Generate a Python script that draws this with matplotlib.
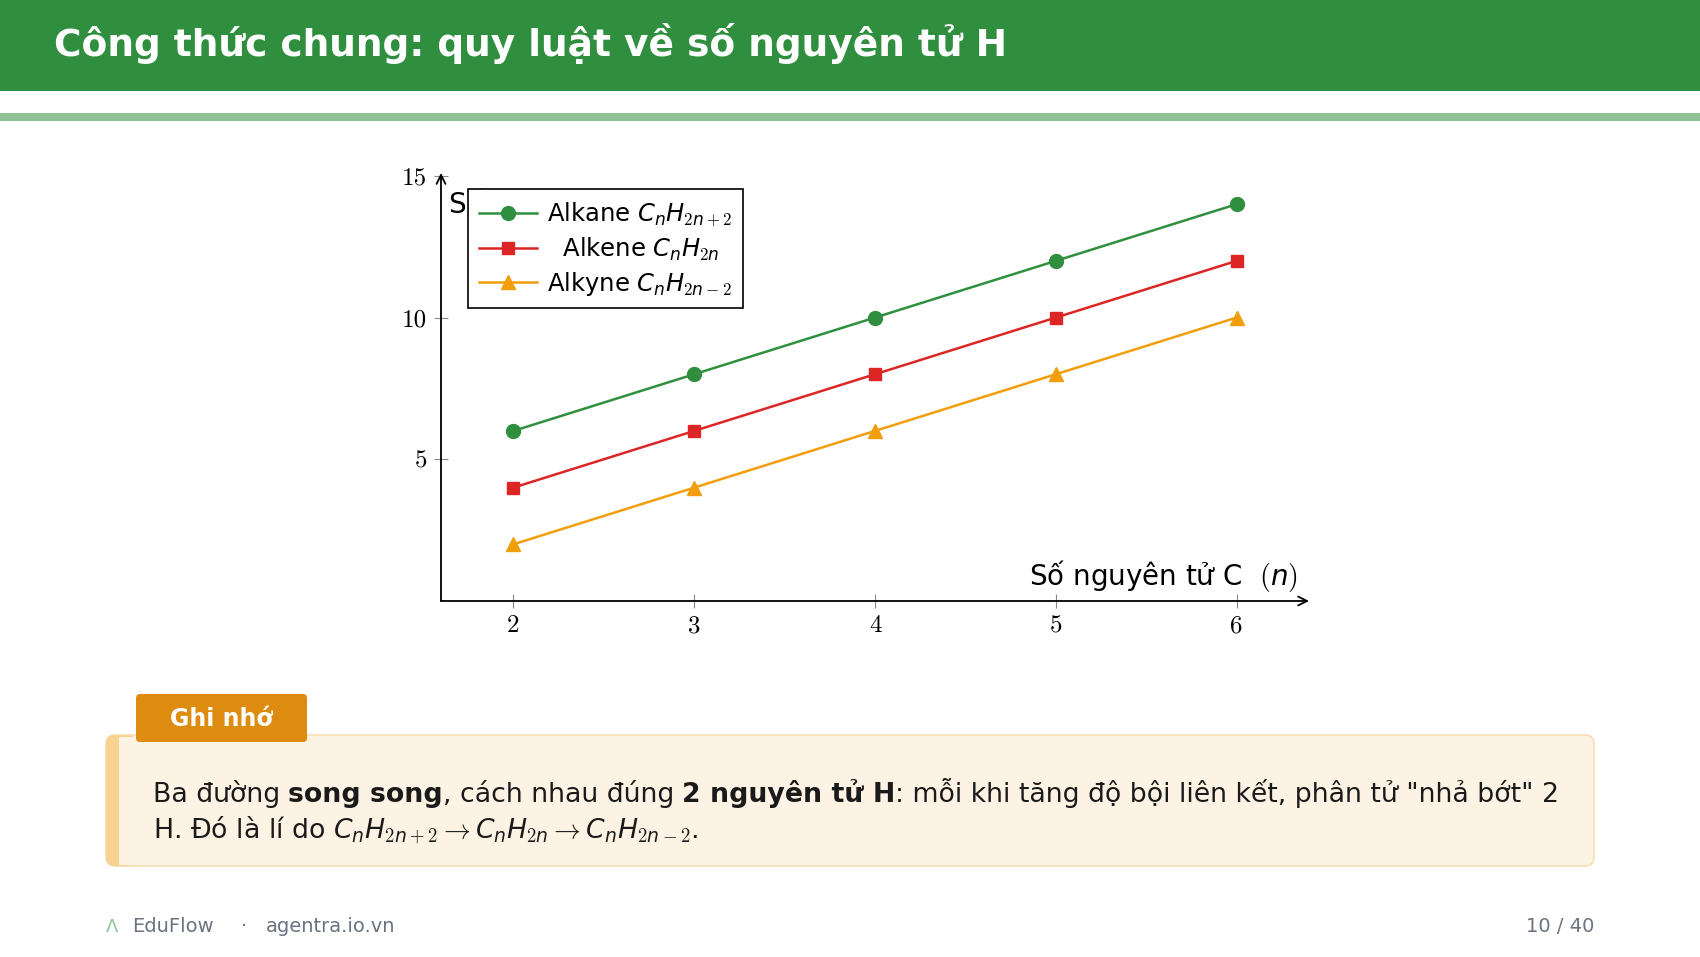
import matplotlib
matplotlib.use("Agg")
import matplotlib.pyplot as plt
from matplotlib.patches import Rectangle, FancyBboxPatch

plt.rcParams['font.family'] = ['DejaVu Sans']
plt.rcParams['mathtext.fontset'] = 'custom'
plt.rcParams['mathtext.it'] = 'DejaVu Sans:italic'
plt.rcParams['mathtext.rm'] = 'cmr10'
plt.rcParams['mathtext.bf'] = 'DejaVu Sans:bold'
plt.rcParams['axes.unicode_minus'] = False

# số nguyên tử C và H
n = [2, 3, 4, 5, 6]
alkane = [6, 8, 10, 12, 14]
alkene = [4, 6, 8, 10, 12]
alkyne = [2, 4, 6, 8, 10]
labels = ["Alkane $C_nH_{2n+2}$", "  Alkene $C_nH_{2n}$", "Alkyne $C_nH_{2n-2}$"]
xticks = [2, 3, 4, 5, 6]
yticks = [5, 10, 15]

GREEN = '#2f8f3f'
RED = '#dc2626'
ORANGE = '#f29e0c'
TXT = '#1a1a1a'

W, H = 1700, 957
fig = plt.figure(figsize=(W / 100, H / 100), dpi=100)

# nền trang (toạ độ pixel)
bg = fig.add_axes([0, 0, 1, 1])
bg.set_xlim(0, W)
bg.set_ylim(H, 0)
bg.axis('off')

bg.add_patch(Rectangle((0, 0), W, 91, color=GREEN, lw=0))
bg.add_patch(Rectangle((0, 113), W, 8, color='#8fc393', lw=0))
bg.text(54, 44, "Công thức chung: quy luật về số nguyên tử H", color='white',
        fontsize=27, fontweight='bold', va='center', ha='left')

# hộp ghi nhớ
bg.add_patch(FancyBboxPatch((106, 735), 1594 - 106, 866 - 735,
                            boxstyle='round,pad=0,rounding_size=9',
                            fc='#fdf3e4', ec='#f6dfb4', lw=1.2))
bg.add_patch(FancyBboxPatch((106, 735), 30, 866 - 735,
                            boxstyle='round,pad=0,rounding_size=9',
                            fc='#f8d390', ec='none'))
bg.add_patch(Rectangle((119, 736.5), 30, 866 - 738, fc='#fdf3e4', ec='none'))
bg.add_patch(FancyBboxPatch((136, 694), 307 - 136, 742 - 694,
                            boxstyle='round,pad=0,rounding_size=4',
                            fc='#dd8c10', ec='none'))
bg.text(221, 719, "Ghi nhớ", color='white', fontsize=17, fontweight='bold',
        ha='center', va='center')

FS = 19.3
segs = [("Ba đường", 'normal', 0), ("song song", 'bold', 8),
        (", cách nhau đúng", 'normal', 0), ("2 nguyên tử H", 'bold', 8),
        (": mỗi khi tăng độ bội liên kết, phân tử \"nhả bớt\" 2", 'normal', 0)]
prev = None
for s, w, gap in segs:
    if prev is None:
        prev = bg.text(153, 802, s, fontsize=FS, fontweight=w, color=TXT,
                       va='baseline', ha='left')
    else:
        prev = bg.annotate(s, xy=(1, 0), xycoords=prev, xytext=(gap, 0),
                           textcoords='offset pixels', fontsize=FS, fontweight=w,
                           color=TXT, va='bottom', ha='left')
bg.text(153, 838, "H. Đó là lí do $C_nH_{2n+2} \\rightarrow C_nH_{2n} \\rightarrow C_nH_{2n-2}$.",
        fontsize=FS, color=TXT, va='baseline', ha='left')

# chân trang
bg.text(112, 927, "Λ", color='#8fc393', fontsize=13, ha='center', va='center')
bg.text(132, 926, "EduFlow", color='#6b7280', fontsize=14, va='center')
bg.text(241, 926, "·", color='#6b7280', fontsize=14, va='center')
bg.text(266, 926, "agentra.io.vn", color='#6b7280', fontsize=14, va='center')
bg.text(1594, 926, "10 / 40", color='#6b7280', fontsize=14, va='center', ha='right')

# biểu đồ
ax = fig.add_axes([441 / W, 1 - 601 / H, (1309 - 441) / W, (601 - 173) / H])
ax.set_xlim(1.6, 6.4)
ax.set_ylim(0, 15.1)
for sp in ax.spines.values():
    sp.set_visible(False)
arrow = dict(arrowstyle='->', lw=1.3, color='black', shrinkA=0, shrinkB=0,
             mutation_scale=16)
ax.annotate('', xy=(1, 0), xytext=(0, 0), xycoords='axes fraction', arrowprops=arrow)
ax.annotate('', xy=(0, 1), xytext=(0, 0), xycoords='axes fraction', arrowprops=arrow)

ax.plot(n, alkane, '-o', color=GREEN, lw=1.8, ms=10, label=labels[0])
ax.plot(n, alkene, '-s', color=RED, lw=1.8, ms=9, label=labels[1])
ax.plot(n, alkyne, '-^', color=ORANGE, lw=1.8, ms=10, label=labels[2])

ax.set_xticks(xticks)
ax.set_yticks(yticks)
ax.tick_params(direction='inout', length=10, width=0.8, color='#888888', pad=5,
               labelsize=18)
for t in ax.get_xticklabels() + ax.get_yticklabels():
    t.set_fontfamily('cmr10')

ax.text(6.34, 0.56, "Số nguyên tử C  $(n)$", fontsize=20, ha='right', va='baseline')
ax.text(1.646, 13.68, "Số nguyên tử H", fontsize=20, ha='left', va='baseline', zorder=3)

leg = ax.legend(loc='upper left', bbox_to_anchor=(0.031, 0.962), borderaxespad=0,
                fontsize=17.5, fancybox=False, edgecolor='black', framealpha=1,
                handlelength=2.4, labelspacing=0.28, borderpad=0.45, handletextpad=0.4)
leg.get_frame().set_linewidth(1.2)
leg.set_zorder(5)

fig.savefig('out.png', dpi=100)
